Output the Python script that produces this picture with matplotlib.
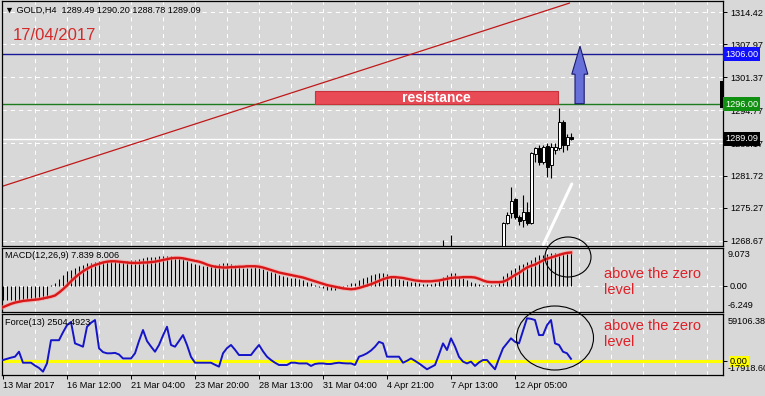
import matplotlib
matplotlib.use('Agg')
import matplotlib.pyplot as plt
import numpy as np
from matplotlib.patches import Rectangle, Polygon, Ellipse

plt.rcParams['font.family'] = ['Liberation Sans', 'DejaVu Sans']

#%% Data (GOLD H4, 143 bars, 4px per bar)
price_ticks = [1314.42, 1307.97, 1301.37, 1294.77, 1288.17, 1281.72, 1275.27, 1268.67]
time_labels = ['13 Mar 2017', '16 Mar 12:00', '21 Mar 04:00', '23 Mar 20:00', '28 Mar 13:00',
               '31 Mar 04:00', '4 Apr 21:00', '7 Apr 13:00', '12 Apr 05:00']

# visible candles only (the older ones sit below the price range)
candle_idx = [110, 112, 125, 126, 127, 128, 129, 130, 131, 132, 133, 134, 135, 136, 137, 138, 139, 140, 141, 142]
c_open  = [1264.8, 1265.2, 1265.4, 1272.26, 1274.2, 1277.0, 1273.5, 1272.86, 1274.5, 1272.26,
           1286.0, 1287.2, 1284.5, 1287.7, 1283.85, 1286.85, 1287.19, 1292.5, 1287.85, 1289.49]
c_high  = [1268.9, 1269.9, 1272.4, 1274.5, 1279.5, 1277.2, 1273.8, 1277.86, 1276.5, 1286.5,
           1287.5, 1287.85, 1287.85, 1288.2, 1288.2, 1288.2, 1295.2, 1292.85, 1290.0, 1290.20]
c_low   = [1263.9, 1264.6, 1265.0, 1272.0, 1273.3, 1273.0, 1271.9, 1271.5, 1271.8, 1272.0,
           1284.5, 1283.85, 1284.0, 1281.5, 1281.3, 1286.0, 1286.85, 1286.45, 1286.85, 1288.78]
c_close = [1265.4, 1266.0, 1272.26, 1273.86, 1276.6, 1273.5, 1272.6, 1274.5, 1272.26, 1286.2,
           1287.2, 1284.5, 1287.5, 1283.4, 1287.5, 1287.5, 1292.5, 1287.75, 1289.5, 1289.09]

macd_main = [-3.3, -3.4, -3.4, -3.5, -3.5, -3.4, -3.4, -3.3, -3.3, -3.2,
             -3.1, -3.0, 0.3, 0.8, 1.7, 2.7, 3.5, 3.9, 4.4, 4.7,
             5.1, 5.4, 5.5, 5.7, 5.9, 6.0, 6.0, 5.9, 5.9, 5.8,
             5.9, 6.0, 6.1, 6.3, 6.5, 6.6, 6.8, 6.9, 7.0, 7.1,
             7.1, 7.2, 7.1, 7.0, 6.8, 6.5, 6.0, 5.6, 5.3, 5.0,
             4.8, 4.7, 4.8, 5.1, 5.3, 5.4, 5.4, 5.2, 5.0, 4.6,
             4.4, 4.2, 4.3, 4.5, 4.4, 4.0, 3.6, 3.3, 3.0, 2.7,
             2.4, 2.2, 2.0, 1.8, 1.6, 1.3, 1.0, 0.6, 0.3, -0.2,
             -0.6, -1.0, -1.1, -0.9, -0.6, -0.2, 0.3, 0.6, 0.7, 1.3,
             1.8, 2.2, 2.5, 2.8, 3.1, 3.2, 2.8, 2.4, 2.0, 1.6,
             1.3, 1.1, 1.0, 0.9, 0.7, 0.5, 0.4, 0.5, 0.7, 1.4,
             2.2, 2.6, 3.2, 3.0, 2.4, 1.8, 1.4, 1.0, 0.6, 0.4,
             0.3, 0.2, 0.2, 0.2, 0.9, 2.3, 3.1, 3.9, 4.4, 4.9,
             5.3, 5.8, 6.3, 6.8, 7.3, 7.4, 7.6, 7.8, 7.9, 7.9,
             7.9, 7.9, 7.839]
macd_signal = [-5.1, -4.7, -4.3, -4.0, -3.8, -3.6, -3.5, -3.4, -3.3, -3.2,
               -3.0, -2.8, -2.6, -2.3, -1.6, -0.8, 0.1, 1.1, 2.0, 2.8,
               3.5, 4.1, 4.6, 5.0, 5.3, 5.6, 5.8, 5.9, 5.9, 5.8,
               5.7, 5.6, 5.5, 5.5, 5.5, 5.6, 5.6, 5.7, 5.8, 6.0,
               6.2, 6.4, 6.6, 6.7, 6.7, 6.6, 6.4, 6.2, 6.0, 5.8,
               5.5, 5.1, 4.8, 4.6, 4.5, 4.4, 4.4, 4.5, 4.5, 4.6,
               4.6, 4.7, 4.7, 4.7, 4.6, 4.4, 4.1, 3.8, 3.5, 3.2,
               3.0, 2.8, 2.6, 2.4, 2.2, 2.0, 1.7, 1.4, 1.1, 0.8,
               0.5, 0.2, 0.0, -0.2, -0.4, -0.6, -0.7, -0.8, -0.7, -0.5,
               -0.2, 0.1, 0.4, 0.8, 1.2, 1.6, 1.9, 2.1, 2.1, 2.0,
               1.9, 1.7, 1.5, 1.3, 1.2, 1.1, 1.1, 1.1, 1.2, 1.3,
               1.5, 1.7, 1.9, 2.0, 2.0, 2.1, 2.1, 2.1, 2.0, 1.7,
               1.3, 1.0, 0.9, 0.9, 0.9, 1.0, 1.4, 2.0, 2.6, 3.1,
               3.8, 4.4, 4.8, 5.1, 5.6, 6.1, 6.5, 6.8, 7.1, 7.4,
               7.7, 7.9, 8.006]
# Force index, in thousands
force_k = [1.0, 2.5, 4.0, 5.2, 11.5, -2.4, -2.4, -2.4, -6.0, -9.0,
           -13.7, -3.2, 26, 26, 26, 36, 45, 49, 22, 20,
           17.8, 43, 48, 51.5, 15.8, 11, 9.5, 9.5, 10, 8,
           3, 3, 3, 9.5, 25, 38.9, 25, 18, 11.5, 20,
           32, 43, 20, 17.8, 25, 32.5, 20, 5, -2.4, -2.4,
           -2.4, -2.4, -2.4, -5, -7.4, 9.5, 16, 20, 14, 7.3,
           7.3, 7.3, 7.3, 14, 20, 12, 5.2, 1, -2.4, -5.3,
           -5.3, -5.3, -2.4, -2.4, -3.3, -3.3, -3.3, -6.5, -4, -3.3,
           -3.3, -4, -4, -3, -2.4, -3, -3.3, -3.3, -5.3, 5.2,
           7, 9.5, 13, 17.8, 24, 22, 5.2, 5.2, 5.2, 5.2,
           -2.4, 0, 3, 0, -3.3, -7, -10.7, -8, -5.3, 8,
           22, 13.6, 28.4, 18, 5, -1, -3.3, -1, -6.5, -2,
           1, 1, -5, -10.7, 3, 15.8, 22, 28.4, 24, 22,
           38, 53.7, 53, 51.5, 32.5, 32.5, 45, 51.5, 22, 20,
           11.5, 9.5, 2.5]

resistance_level = 1296.00
target_level = 1306.00
last_price = 1289.09

#%% Layout helpers (pixel based, figure is 765x396)
W, H = 765, 396
BG = '#d8d8d8'
FS = 6.6

def px_rect(x0, y0, x1, y1):
    return [x0 / W, 1 - y1 / H, (x1 - x0) / W, (y1 - y0) / H]

fig = plt.figure(figsize=(W / 100, H / 100), dpi=100, facecolor=BG)
ax_p = fig.add_axes(px_rect(2, 1, 723, 246))
ax_m = fig.add_axes(px_rect(2, 248, 723, 312))
ax_f = fig.add_axes(px_rect(2, 314, 723, 375))

n = len(macd_main)
idx = np.arange(n)

for ax in (ax_p, ax_m, ax_f):
    ax.set_facecolor(BG)
    ax.set_xlim(-0.25, 180)
    for s in ax.spines.values():
        s.set_color('black')
        s.set_linewidth(0.9)
    ax.yaxis.tick_right()
    ax.tick_params(axis='y', direction='out', length=3, width=0.7, pad=2, labelsize=FS, colors='black')
    ax.tick_params(axis='x', length=0, labelbottom=False)
    for g in range(8, 180, 8):
        ax.axvline(g, color='white', lw=0.75, ls=(0, (4, 4)), zorder=0.5)

#%% Price pane
ax_p.set_ylim(1267.67, 1316.62)
ax_p.set_yticks(price_ticks)
ax_p.set_yticklabels(['%.2f' % v for v in price_ticks])
for v in price_ticks:
    ax_p.axhline(v, color='white', lw=0.75, ls=(0, (4, 4)), zorder=0.5)
ax_p.axhline(last_price, color='white', lw=1.0, zorder=0.6)
ax_p.axhline(target_level, color='#1a1a99', lw=1.0, zorder=1)
ax_p.axhline(resistance_level, color='#1e7a1e', lw=1.0, zorder=1)

# trend line
ax_p.plot([-0.75, 141.6], [1279.45, 1316.2], color='#c01818', lw=0.9, zorder=1)

# candles
c_open, c_close = np.array(c_open), np.array(c_close)
ax_p.vlines(candle_idx, c_low, c_high, color='black', lw=0.8, zorder=2)
bull = c_close >= c_open
ax_p.bar(candle_idx, np.abs(c_close - c_open), bottom=np.minimum(c_open, c_close), width=0.75,
         color=np.where(bull, 'white', 'black'), edgecolor='black', lw=0.7, zorder=3)

# resistance box
ax_p.add_patch(Rectangle((78, 1295.95), 60.75, 2.65, fc='#e84b55', ec='#c8323c', lw=0.8, zorder=4))
ax_p.text(108.4, 1297.25, 'resistance', color='white', fontsize=10, fontweight='bold',
          ha='center', va='center', zorder=5)

# blue arrow
arrow = [(143.0, 1296.1), (145.3, 1296.1), (145.3, 1302.0), (146.2, 1302.0),
         (144.25, 1307.6), (142.2, 1302.0), (143.0, 1302.0)]
ax_p.add_patch(Polygon(arrow, closed=True, fc='#6670d8', ec='#1a1a70', lw=0.8, zorder=5, clip_on=False))

# white slope line
ax_p.plot([135.1, 142.2], [1268.0, 1280.05], color='white', lw=2.2, solid_capstyle='round', zorder=4)

# marker on the right edge
ax_p.add_patch(Rectangle((179.25, 1295.24), 0.9, 5.39, fc='black', ec='none', clip_on=False, zorder=6))

ytr = ax_p.get_yaxis_transform()
lab_x = 1.0 + 2 / 721
for val, fc in [(target_level, '#1010ff'), (resistance_level, '#109010'), (last_price, 'black')]:
    ax_p.text(lab_x, val, '%.2f' % val, transform=ytr, color='white', fontsize=FS, va='center', ha='left',
              bbox=dict(boxstyle='square,pad=0.25', fc=fc, ec='none'), clip_on=False, zorder=7)

#%% MACD pane
ax_m.set_ylim(-6.249, 9.073)
ax_m.axhline(0, color='white', lw=0.75, ls=(0, (4, 4)), zorder=0.5)
ax_m.vlines(idx, 0, macd_main, color='black', lw=0.75, zorder=2)
ax_m.plot(idx, macd_signal, color='#ff9a9a', lw=3.0, alpha=0.6, zorder=3)
ax_m.plot(idx, macd_signal, color='#d81818', lw=1.7, zorder=4)
ax_m.set_yticks([0])
ax_m.set_yticklabels(['0.00'])
ax_m.text(1.0 + 5 / 721, 1 - 2 / 64, '9.073', transform=ax_m.transAxes, fontsize=FS, va='top', ha='left')
ax_m.text(1.0 + 5 / 721, 2 / 64, '-6.249', transform=ax_m.transAxes, fontsize=FS, va='bottom', ha='left')
ax_m.text(3 / 721, 1 - 3 / 64, 'MACD(12,26,9) 7.839 8.006', transform=ax_m.transAxes, fontsize=FS,
          va='top', ha='left', zorder=6)

#%% Force pane
force = np.array(force_k) * 1000
ax_f.set_ylim(-17918.60, 59106.38)
ax_f.axhline(0, color='#ffff00', lw=2.2, zorder=2)
ax_f.plot(idx, force, color='#1414c8', lw=1.4, zorder=3)
ax_f.set_yticks([0])
ax_f.set_yticklabels(['0.00'])
ax_f.get_yticklabels()[0].set_bbox(dict(boxstyle='square,pad=0.1', fc='#ffff00', ec='none'))
ax_f.text(1.0 + 5 / 721, 1 - 3 / 61, '59106.38', transform=ax_f.transAxes, fontsize=FS, va='top', ha='left')
ax_f.text(1.0 + 5 / 721, 2 / 61, '-17918.60', transform=ax_f.transAxes, fontsize=FS, va='bottom', ha='left')
ax_f.text(3 / 721, 1 - 4 / 61, 'Force(13) 2504.4923', transform=ax_f.transAxes, fontsize=FS,
          va='top', ha='left', zorder=6)

ax_f.set_xticks(np.arange(len(time_labels)) * 16)
ax_f.set_xticklabels(time_labels)
ax_f.tick_params(axis='x', length=3, width=0.7, direction='out', labelbottom=True, labelsize=FS, pad=1)
for lbl in ax_f.get_xticklabels():
    lbl.set_ha('left')

#%% Overlay: header, annotations, circles (pixel coordinates)
ov = fig.add_axes([0, 0, 1, 1])
ov.set_xlim(0, W)
ov.set_ylim(H, 0)
ov.axis('off')
ov.patch.set_alpha(0)

ov.text(5, 10, '\u25bc GOLD,H4  1289.49 1290.20 1288.78 1289.09', fontsize=FS, va='center', ha='left')
ov.text(13, 35.5, '17/04/2017', color='#d42a2a', fontsize=12, va='center', ha='left')
ov.add_patch(Ellipse((568, 257), 46, 40, fill=False, ec='black', lw=0.8))
ov.add_patch(Ellipse((555, 338), 77, 64, fill=False, ec='black', lw=0.8))
for y0 in (274, 326.5):
    ov.text(604, y0, 'above the zero', color='#e02028', fontsize=10.5, va='center', ha='left')
    ov.text(604, y0 + 15.7, 'level', color='#e02028', fontsize=10.5, va='center', ha='left')

fig.savefig('out.png', dpi=100, facecolor=BG)
